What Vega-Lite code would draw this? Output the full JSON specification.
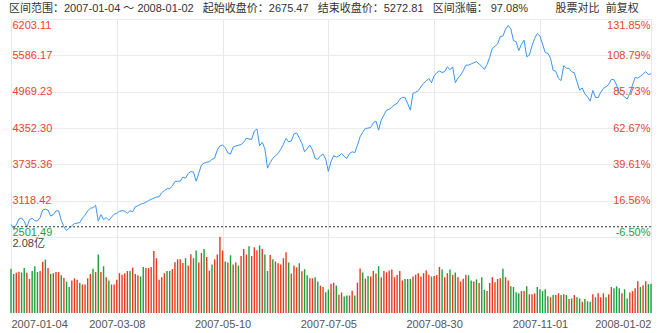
{
"$schema":"https://vega.github.io/schema/vega-lite/v6.json",
"background":"white",
"padding":{"left":9,"right":9,"top":3,"bottom":0},
"config":{"font":"Liberation Sans, Noto Sans CJK SC, sans-serif","view":{"stroke":null},"concat":{"spacing":0}},
"title":{"text":"区间范围：2007-01-04 ～ 2008-01-02\u00a0\u00a0\u00a0起始收盘价：2675.47\u00a0\u00a0\u00a0结束收盘价：5272.81\u00a0\u00a0\u00a0区间涨幅：\u00a097.08%\u00a0\u00a0\u00a0\u00a0\u00a0\u00a0\u00a0\u00a0\u00a0股票对比\u00a0\u00a0前复权","anchor":"start","fontSize":11,"fontWeight":"normal","color":"#333333","offset":5},
"data":{"values":[
{"d":"2007-01-04","c":2715.72,"v":1.21,"s":"dn"},
{"d":"2007-01-05","c":2641.33,"v":1.07,"s":"dn"},
{"d":"2007-01-08","c":2707.20,"v":1.10,"s":"up"},
{"d":"2007-01-09","c":2807.80,"v":1.13,"s":"up"},
{"d":"2007-01-10","c":2825.58,"v":1.11,"s":"dn"},
{"d":"2007-01-11","c":2770.11,"v":1.23,"s":"dn"},
{"d":"2007-01-12","c":2668.11,"v":1.10,"s":"up"},
{"d":"2007-01-15","c":2794.70,"v":0.93,"s":"up"},
{"d":"2007-01-16","c":2821.00,"v":1.15,"s":"dn"},
{"d":"2007-01-17","c":2778.83,"v":1.28,"s":"dn"},
{"d":"2007-01-18","c":2772.50,"v":1.12,"s":"dn"},
{"d":"2007-01-19","c":2832.21,"v":1.15,"s":"up"},
{"d":"2007-01-22","c":2960,"v":1.40,"s":"up"},
{"d":"2007-01-23","c":2975,"v":1.46,"s":"dn"},
{"d":"2007-01-24","c":2958,"v":1.23,"s":"up"},
{"d":"2007-01-25","c":2857,"v":1.07,"s":"dn"},
{"d":"2007-01-26","c":2882,"v":1.09,"s":"up"},
{"d":"2007-01-29","c":2945,"v":1.12,"s":"up"},
{"d":"2007-01-30","c":2946,"v":1.12,"s":"up"},
{"d":"2007-01-31","c":2786,"v":1.03,"s":"dn"},
{"d":"2007-02-01","c":2673,"v":0.96,"s":"up"},
{"d":"2007-02-02","c":2612,"v":0.86,"s":"dn"},
{"d":"2007-02-05","c":2652,"v":0.71,"s":"dn"},
{"d":"2007-02-06","c":2690,"v":0.89,"s":"up"},
{"d":"2007-02-07","c":2730,"v":0.95,"s":"up"},
{"d":"2007-02-08","c":2737,"v":0.91,"s":"up"},
{"d":"2007-02-09","c":2746,"v":0.82,"s":"dn"},
{"d":"2007-02-12","c":2820,"v":0.78,"s":"up"},
{"d":"2007-02-13","c":2873,"v":0.78,"s":"up"},
{"d":"2007-02-14","c":2943,"v":0.95,"s":"up"},
{"d":"2007-02-15","c":2990,"v":1.07,"s":"up"},
{"d":"2007-02-16","c":2998,"v":1.21,"s":"dn"},
{"d":"2007-02-26","c":3040,"v":1.12,"s":"up"},
{"d":"2007-02-27","c":2771,"v":1.60,"s":"dn"},
{"d":"2007-02-28","c":2881,"v":1.12,"s":"up"},
{"d":"2007-03-01","c":2797,"v":1.28,"s":"dn"},
{"d":"2007-03-02","c":2831,"v":0.98,"s":"up"},
{"d":"2007-03-05","c":2785,"v":0.89,"s":"dn"},
{"d":"2007-03-06","c":2838,"v":0.78,"s":"up"},
{"d":"2007-03-07","c":2889,"v":0.78,"s":"up"},
{"d":"2007-03-08","c":2904,"v":0.91,"s":"up"},
{"d":"2007-03-09","c":2937,"v":1.09,"s":"up"},
{"d":"2007-03-12","c":2950,"v":1.05,"s":"up"},
{"d":"2007-03-13","c":2940,"v":1.09,"s":"up"},
{"d":"2007-03-14","c":2906,"v":1.15,"s":"up"},
{"d":"2007-03-15","c":2947,"v":1.15,"s":"dn"},
{"d":"2007-03-16","c":2930,"v":1.24,"s":"up"},
{"d":"2007-03-19","c":3014,"v":1.07,"s":"up"},
{"d":"2007-03-20","c":3032,"v":1.03,"s":"up"},
{"d":"2007-03-21","c":3058,"v":1.00,"s":"dn"},
{"d":"2007-03-22","c":3071,"v":1.26,"s":"dn"},
{"d":"2007-03-23","c":3093,"v":1.23,"s":"up"},
{"d":"2007-03-26","c":3120,"v":1.23,"s":"up"},
{"d":"2007-03-27","c":3140,"v":1.26,"s":"up"},
{"d":"2007-03-28","c":3160,"v":1.70,"s":"up"},
{"d":"2007-03-29","c":3180,"v":1.50,"s":"up"},
{"d":"2007-03-30","c":3184,"v":0.91,"s":"up"},
{"d":"2007-04-02","c":3253,"v":0.98,"s":"up"},
{"d":"2007-04-03","c":3291,"v":1.09,"s":"up"},
{"d":"2007-04-04","c":3319,"v":1.15,"s":"dn"},
{"d":"2007-04-05","c":3323,"v":1.15,"s":"dn"},
{"d":"2007-04-06","c":3365,"v":1.20,"s":"up"},
{"d":"2007-04-09","c":3444,"v":1.39,"s":"up"},
{"d":"2007-04-10","c":3448,"v":1.47,"s":"up"},
{"d":"2007-04-11","c":3449,"v":1.47,"s":"up"},
{"d":"2007-04-12","c":3519,"v":1.37,"s":"up"},
{"d":"2007-04-13","c":3500,"v":1.50,"s":"dn"},
{"d":"2007-04-16","c":3580,"v":1.30,"s":"up"},
{"d":"2007-04-17","c":3612,"v":1.61,"s":"up"},
{"d":"2007-04-18","c":3605,"v":1.50,"s":"dn"},
{"d":"2007-04-19","c":3449,"v":1.71,"s":"dn"},
{"d":"2007-04-20","c":3584,"v":1.38,"s":"up"},
{"d":"2007-04-23","c":3722,"v":1.64,"s":"up"},
{"d":"2007-04-24","c":3757,"v":1.75,"s":"dn"},
{"d":"2007-04-25","c":3770,"v":1.53,"s":"up"},
{"d":"2007-04-26","c":3780,"v":1.16,"s":"up"},
{"d":"2007-04-27","c":3820,"v":1.33,"s":"dn"},
{"d":"2007-04-30","c":3841,"v":1.47,"s":"up"},
{"d":"2007-05-08","c":3980,"v":1.60,"s":"up"},
{"d":"2007-05-09","c":4049,"v":2.08,"s":"up"},
{"d":"2007-05-10","c":4062,"v":1.71,"s":"up"},
{"d":"2007-05-11","c":4021,"v":1.41,"s":"dn"},
{"d":"2007-05-14","c":3930,"v":1.38,"s":"up"},
{"d":"2007-05-15","c":3910,"v":1.58,"s":"dn"},
{"d":"2007-05-16","c":4030,"v":1.33,"s":"up"},
{"d":"2007-05-17","c":4048,"v":1.38,"s":"up"},
{"d":"2007-05-18","c":4060,"v":1.30,"s":"dn"},
{"d":"2007-05-21","c":4072,"v":1.56,"s":"up"},
{"d":"2007-05-22","c":4110,"v":1.75,"s":"up"},
{"d":"2007-05-23","c":4181,"v":1.60,"s":"up"},
{"d":"2007-05-24","c":4165,"v":1.83,"s":"dn"},
{"d":"2007-05-25","c":4158,"v":1.56,"s":"up"},
{"d":"2007-05-28","c":4300,"v":1.80,"s":"up"},
{"d":"2007-05-29","c":4335,"v":1.72,"s":"up"},
{"d":"2007-05-30","c":4053,"v":1.85,"s":"dn"},
{"d":"2007-05-31","c":4109,"v":1.75,"s":"up"},
{"d":"2007-06-01","c":4000,"v":1.60,"s":"dn"},
{"d":"2007-06-04","c":3670,"v":1.15,"s":"dn"},
{"d":"2007-06-05","c":3767,"v":1.59,"s":"up"},
{"d":"2007-06-06","c":3838,"v":1.47,"s":"dn"},
{"d":"2007-06-07","c":3880,"v":1.41,"s":"up"},
{"d":"2007-06-08","c":3920,"v":1.36,"s":"up"},
{"d":"2007-06-11","c":3990,"v":1.33,"s":"up"},
{"d":"2007-06-12","c":4075,"v":1.50,"s":"up"},
{"d":"2007-06-13","c":4175,"v":1.66,"s":"up"},
{"d":"2007-06-14","c":4118,"v":1.38,"s":"dn"},
{"d":"2007-06-15","c":4132,"v":1.08,"s":"up"},
{"d":"2007-06-18","c":4252,"v":1.30,"s":"up"},
{"d":"2007-06-19","c":4269,"v":1.25,"s":"up"},
{"d":"2007-06-20","c":4184,"v":1.36,"s":"dn"},
{"d":"2007-06-21","c":4091,"v":1.14,"s":"up"},
{"d":"2007-06-22","c":3948,"v":1.20,"s":"dn"},
{"d":"2007-06-25","c":4000,"v":1.03,"s":"dn"},
{"d":"2007-06-26","c":4062,"v":0.95,"s":"up"},
{"d":"2007-06-27","c":3980,"v":0.95,"s":"up"},
{"d":"2007-06-28","c":3835,"v":0.98,"s":"dn"},
{"d":"2007-06-29","c":3820,"v":0.86,"s":"dn"},
{"d":"2007-07-02","c":3880,"v":0.75,"s":"up"},
{"d":"2007-07-03","c":3910,"v":0.71,"s":"up"},
{"d":"2007-07-04","c":3825,"v":0.57,"s":"dn"},
{"d":"2007-07-05","c":3616,"v":0.64,"s":"dn"},
{"d":"2007-07-06","c":3781,"v":0.80,"s":"up"},
{"d":"2007-07-09","c":3883,"v":0.83,"s":"up"},
{"d":"2007-07-10","c":3860,"v":0.75,"s":"dn"},
{"d":"2007-07-11","c":3875,"v":0.50,"s":"up"},
{"d":"2007-07-12","c":3920,"v":0.56,"s":"up"},
{"d":"2007-07-13","c":3870,"v":0.45,"s":"dn"},
{"d":"2007-07-16","c":3835,"v":0.48,"s":"dn"},
{"d":"2007-07-17","c":3920,"v":0.48,"s":"up"},
{"d":"2007-07-18","c":3948,"v":0.61,"s":"up"},
{"d":"2007-07-19","c":3935,"v":0.48,"s":"dn"},
{"d":"2007-07-20","c":4058,"v":0.83,"s":"up"},
{"d":"2007-07-23","c":4203,"v":1.22,"s":"up"},
{"d":"2007-07-24","c":4280,"v":1.11,"s":"dn"},
{"d":"2007-07-25","c":4345,"v":0.94,"s":"up"},
{"d":"2007-07-26","c":4350,"v":1.01,"s":"dn"},
{"d":"2007-07-27","c":4362,"v":1.00,"s":"up"},
{"d":"2007-07-30","c":4440,"v":1.15,"s":"up"},
{"d":"2007-07-31","c":4471,"v":1.08,"s":"up"},
{"d":"2007-08-01","c":4316,"v":1.28,"s":"dn"},
{"d":"2007-08-02","c":4490,"v":0.98,"s":"up"},
{"d":"2007-08-03","c":4571,"v":1.15,"s":"up"},
{"d":"2007-08-06","c":4656,"v":1.11,"s":"up"},
{"d":"2007-08-07","c":4670,"v":1.16,"s":"up"},
{"d":"2007-08-08","c":4701,"v":1.19,"s":"up"},
{"d":"2007-08-09","c":4749,"v":0.98,"s":"up"},
{"d":"2007-08-10","c":4770,"v":1.04,"s":"up"},
{"d":"2007-08-13","c":4840,"v":1.15,"s":"up"},
{"d":"2007-08-14","c":4872,"v":0.89,"s":"up"},
{"d":"2007-08-15","c":4870,"v":0.93,"s":"dn"},
{"d":"2007-08-16","c":4765,"v":0.93,"s":"dn"},
{"d":"2007-08-17","c":4656,"v":0.93,"s":"dn"},
{"d":"2007-08-20","c":4940,"v":1.00,"s":"up"},
{"d":"2007-08-21","c":4960,"v":1.05,"s":"up"},
{"d":"2007-08-22","c":4985,"v":1.09,"s":"up"},
{"d":"2007-08-23","c":5050,"v":1.00,"s":"up"},
{"d":"2007-08-24","c":5110,"v":1.09,"s":"up"},
{"d":"2007-08-27","c":5150,"v":1.16,"s":"up"},
{"d":"2007-08-28","c":5195,"v":1.05,"s":"up"},
{"d":"2007-08-29","c":5121,"v":1.00,"s":"dn"},
{"d":"2007-08-30","c":5238,"v":1.01,"s":"up"},
{"d":"2007-08-31","c":5290,"v":1.04,"s":"up"},
{"d":"2007-09-03","c":5321,"v":1.26,"s":"up"},
{"d":"2007-09-04","c":5294,"v":1.19,"s":"dn"},
{"d":"2007-09-05","c":5310,"v":0.98,"s":"up"},
{"d":"2007-09-06","c":5393,"v":1.09,"s":"up"},
{"d":"2007-09-07","c":5340,"v":1.19,"s":"dn"},
{"d":"2007-09-10","c":5390,"v":1.04,"s":"up"},
{"d":"2007-09-11","c":5121,"v":1.11,"s":"dn"},
{"d":"2007-09-12","c":5200,"v":0.98,"s":"up"},
{"d":"2007-09-13","c":5251,"v":0.86,"s":"up"},
{"d":"2007-09-14","c":5325,"v":0.94,"s":"up"},
{"d":"2007-09-17","c":5419,"v":1.05,"s":"up"},
{"d":"2007-09-18","c":5420,"v":1.03,"s":"dn"},
{"d":"2007-09-19","c":5440,"v":0.89,"s":"dn"},
{"d":"2007-09-20","c":5461,"v":0.86,"s":"up"},
{"d":"2007-09-21","c":5478,"v":0.92,"s":"dn"},
{"d":"2007-09-24","c":5440,"v":0.82,"s":"up"},
{"d":"2007-09-25","c":5400,"v":0.98,"s":"dn"},
{"d":"2007-09-26","c":5348,"v":0.64,"s":"dn"},
{"d":"2007-09-27","c":5430,"v":0.60,"s":"up"},
{"d":"2007-09-28","c":5552,"v":0.82,"s":"up"},
{"d":"2007-10-08","c":5705,"v":0.98,"s":"up"},
{"d":"2007-10-09","c":5740,"v":0.84,"s":"up"},
{"d":"2007-10-10","c":5779,"v":0.93,"s":"up"},
{"d":"2007-10-11","c":5903,"v":0.95,"s":"up"},
{"d":"2007-10-12","c":5913,"v":1.21,"s":"dn"},
{"d":"2007-10-15","c":6030,"v":0.98,"s":"up"},
{"d":"2007-10-16","c":6092,"v":0.89,"s":"up"},
{"d":"2007-10-17","c":6036,"v":0.73,"s":"dn"},
{"d":"2007-10-18","c":5835,"v":0.71,"s":"dn"},
{"d":"2007-10-19","c":5818,"v":0.57,"s":"dn"},
{"d":"2007-10-22","c":5667,"v":0.54,"s":"dn"},
{"d":"2007-10-23","c":5770,"v":0.60,"s":"up"},
{"d":"2007-10-24","c":5843,"v":0.60,"s":"up"},
{"d":"2007-10-25","c":5562,"v":0.73,"s":"dn"},
{"d":"2007-10-26","c":5589,"v":0.51,"s":"up"},
{"d":"2007-10-29","c":5748,"v":0.51,"s":"up"},
{"d":"2007-10-30","c":5874,"v":0.54,"s":"up"},
{"d":"2007-10-31","c":5955,"v":0.71,"s":"dn"},
{"d":"2007-11-01","c":5914,"v":0.65,"s":"dn"},
{"d":"2007-11-02","c":5777,"v":0.60,"s":"dn"},
{"d":"2007-11-05","c":5634,"v":0.65,"s":"dn"},
{"d":"2007-11-06","c":5620,"v":0.46,"s":"dn"},
{"d":"2007-11-07","c":5538,"v":0.43,"s":"up"},
{"d":"2007-11-08","c":5330,"v":0.49,"s":"dn"},
{"d":"2007-11-09","c":5316,"v":0.49,"s":"up"},
{"d":"2007-11-12","c":5195,"v":0.54,"s":"up"},
{"d":"2007-11-13","c":5158,"v":0.49,"s":"dn"},
{"d":"2007-11-14","c":5412,"v":0.51,"s":"up"},
{"d":"2007-11-15","c":5368,"v":0.49,"s":"dn"},
{"d":"2007-11-16","c":5364,"v":0.38,"s":"up"},
{"d":"2007-11-19","c":5308,"v":0.40,"s":"dn"},
{"d":"2007-11-20","c":5290,"v":0.49,"s":"up"},
{"d":"2007-11-21","c":5138,"v":0.43,"s":"dn"},
{"d":"2007-11-22","c":4996,"v":0.40,"s":"dn"},
{"d":"2007-11-23","c":5032,"v":0.31,"s":"up"},
{"d":"2007-11-26","c":4931,"v":0.38,"s":"dn"},
{"d":"2007-11-27","c":4880,"v":0.32,"s":"dn"},
{"d":"2007-11-28","c":4809,"v":0.31,"s":"dn"},
{"d":"2007-11-29","c":4990,"v":0.51,"s":"up"},
{"d":"2007-11-30","c":4872,"v":0.43,"s":"dn"},
{"d":"2007-12-03","c":4868,"v":0.54,"s":"up"},
{"d":"2007-12-04","c":4960,"v":0.43,"s":"up"},
{"d":"2007-12-05","c":5025,"v":0.54,"s":"up"},
{"d":"2007-12-06","c":5053,"v":0.43,"s":"dn"},
{"d":"2007-12-07","c":5091,"v":0.51,"s":"up"},
{"d":"2007-12-10","c":5178,"v":0.71,"s":"up"},
{"d":"2007-12-11","c":5172,"v":0.68,"s":"dn"},
{"d":"2007-12-12","c":5082,"v":0.73,"s":"dn"},
{"d":"2007-12-13","c":4951,"v":0.68,"s":"dn"},
{"d":"2007-12-14","c":4920,"v":0.54,"s":"up"},
{"d":"2007-12-17","c":4880,"v":0.65,"s":"dn"},
{"d":"2007-12-18","c":4843,"v":0.40,"s":"dn"},
{"d":"2007-12-19","c":4940,"v":0.56,"s":"up"},
{"d":"2007-12-20","c":5082,"v":0.60,"s":"up"},
{"d":"2007-12-21","c":5212,"v":0.68,"s":"up"},
{"d":"2007-12-24","c":5200,"v":0.87,"s":"up"},
{"d":"2007-12-25","c":5230,"v":0.71,"s":"dn"},
{"d":"2007-12-26","c":5270,"v":0.76,"s":"up"},
{"d":"2007-12-27","c":5308,"v":0.87,"s":"up"},
{"d":"2007-12-28","c":5262,"v":0.79,"s":"dn"},
{"d":"2008-01-02","c":5273,"v":0.80,"s":"dn"}
]},
"vconcat":[
{
"width":640,"height":218,
"layer":[
{"mark":{"type":"line","color":"#3a95f3","strokeWidth":1},
"encoding":{
"x":{"field":"d","type":"ordinal","scale":{"type":"point","padding":0},"axis":{"values":["2007-01-04","2007-03-08","2007-05-10","2007-07-05","2007-08-30","2007-11-01","2008-01-02"],"labels":false,"ticks":false,"domain":false,"grid":true,"gridColor":"#e6e6ec","title":null}},
"y":{"field":"c","type":"quantitative","scale":{"domain":[2501.49,6203.11],"nice":false,"zero":false},"axis":{"values":[2501.49,3118.42,3735.36,4352.30,4969.23,5586.17,6203.11],"format":".2f","labelAlign":"left","labelPadding":-1,"labelFlush":true,"ticks":false,"domain":false,"grid":true,"gridColor":"#ebebef","labelFontSize":11,"labelColor":{"condition":{"test":"datum.value < 2600","value":"#1c9e43"},"value":"#e5452e"},"title":null}}
}},
{"data":{"values":[{"k":1}]},
"mark":{"type":"rule","color":"#333333","strokeDash":[2,2],"strokeWidth":1},
"encoding":{
"y":{"datum":2675.47,"type":"quantitative","axis":{"orient":"right","values":[2501.49,3118.42,3735.36,4352.30,4969.23,5586.17,6203.11],"labelExpr":"datum.value < 2600 ? '-6.50%' : datum.value < 3200 ? '16.56%' : datum.value < 3800 ? '39.61%' : datum.value < 4400 ? '62.67%' : datum.value < 5000 ? '85.73%' : datum.value < 5600 ? '108.79%' : '131.85%'","labelAlign":"right","labelPadding":-1,"labelFlush":true,"ticks":false,"domain":false,"grid":false,"labelFontSize":11,"labelColor":{"condition":{"test":"datum.value < 2600","value":"#1c9e43"},"value":"#e5452e"},"title":null}}
}}
],
"resolve":{"axis":{"y":"independent"}}
},
{
"width":640,"height":76,
"mark":{"type":"bar","size":1.4},
"encoding":{
"x":{"field":"d","type":"ordinal","scale":{"type":"point","padding":0},"axis":{"values":["2007-01-04","2007-03-08","2007-05-10","2007-07-05","2007-08-30","2007-11-01","2008-01-02"],"labelFlush":true,"labelAngle":0,"ticks":false,"domain":false,"grid":true,"gridColor":"#e6e6ec","labelColor":"#555555","labelFontSize":11,"labelPadding":5,"title":null}},
"y":{"field":"v","type":"quantitative","scale":{"domain":[0,2.08],"nice":false},"axis":{"values":[2.08],"labelExpr":"'2.08亿'","labelAlign":"left","labelPadding":-1,"labelFlush":true,"ticks":false,"domain":false,"grid":false,"labelColor":"#444444","labelFontSize":11,"title":null}},
"color":{"field":"s","type":"nominal","scale":{"domain":["up","dn"],"range":["#e8391c","#17a03b"]},"legend":null}
}
}
]
}
